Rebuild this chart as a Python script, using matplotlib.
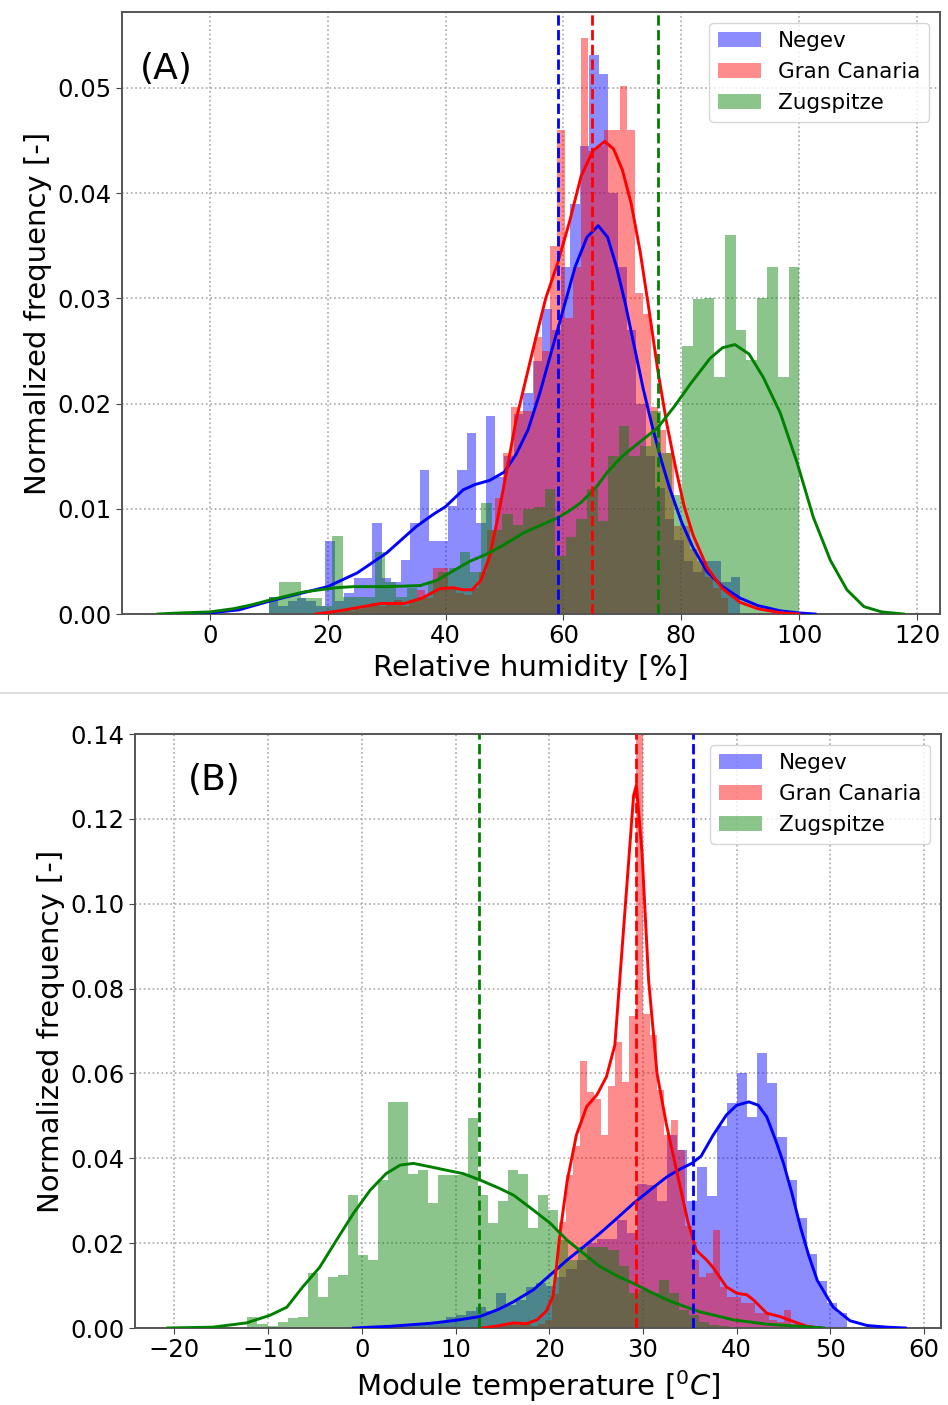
import numpy as np
import matplotlib.pyplot as plt
from matplotlib.lines import Line2D

# ---------- (A) relative humidity ----------
# histogram bins: (first edge, bin width), 50 bins each, heights = normalized frequency
rh_bins = {"Negev": (10.0, 1.6), "Gran Canaria": (22.0, 1.32), "Zugspitze": (10.0, 1.8)}

rh_negev = [0.0016, 0.0008, 0.0012, 0.0015, 0.0012, 0.0008, 0.0069, 0.0012, 0.0020, 0.0034,
            0.0034, 0.0086, 0.0034, 0.0030, 0.0051, 0.0086, 0.0137, 0.0069, 0.0069, 0.0103,
            0.0137, 0.0172, 0.0086, 0.0188, 0.0130, 0.0150, 0.0190, 0.0210, 0.0240, 0.0290,
            0.0270, 0.0330, 0.0390, 0.0445, 0.0531, 0.0513, 0.0400, 0.0330, 0.0270, 0.0200,
            0.0150, 0.0120, 0.0090, 0.0070, 0.0050, 0.0040, 0.0050, 0.0050, 0.0030, 0.0035]
rh_canaria = [0.0005, 0.0003, 0.0005, 0.0008, 0.0010, 0.0008, 0.0010, 0.0013, 0.0008, 0.0012,
              0.0023, 0.0015, 0.0044, 0.0044, 0.0025, 0.0020, 0.0018, 0.0025, 0.0040, 0.0080,
              0.0110, 0.0153, 0.0197, 0.0193, 0.0193, 0.0263, 0.0250, 0.0350, 0.0460, 0.0281,
              0.0330, 0.0547, 0.0440, 0.0445, 0.0460, 0.0460, 0.0502, 0.0460, 0.0305, 0.0285,
              0.0197, 0.0175, 0.0153, 0.0084, 0.0084, 0.0062, 0.0050, 0.0035, 0.0025, 0.0015]
rh_zugspitze = [0.0016, 0.0030, 0.0030, 0.0015, 0.0015, 0.0008, 0.0074, 0.0016, 0.0016, 0.0016,
                0.0059, 0.0030, 0.0016, 0.0025, 0.0016, 0.0030, 0.0040, 0.0044, 0.0059, 0.0040,
                0.0105, 0.0080, 0.0095, 0.0085, 0.0100, 0.0102, 0.0119, 0.0055, 0.0073, 0.0090,
                0.0119, 0.0088, 0.0150, 0.0179, 0.0150, 0.0160, 0.0193, 0.0153, 0.0113, 0.0255,
                0.0299, 0.0300, 0.0225, 0.0360, 0.0270, 0.0241, 0.0300, 0.0330, 0.0225, 0.0330]

# kde curves
rh_kde_negev_x = [-5, 0, 5, 10, 15, 20, 25, 30, 35, 38, 40, 43, 45, 47.5, 50, 52, 54, 56, 58, 60,
                  62, 64, 65.9, 67.5, 69, 70.5, 72, 73.5, 75, 76.5, 78, 80, 82, 84.4, 87, 90, 93,
                  96.8, 100, 102.7]
rh_kde_negev_y = [0, 0.0001, 0.0004, 0.0012, 0.0019, 0.0026, 0.0039, 0.0058, 0.0083, 0.0095,
                  0.0102, 0.0118, 0.0123, 0.0127, 0.0135, 0.0152, 0.0175, 0.0210, 0.0250, 0.0290,
                  0.0330, 0.0358, 0.0369, 0.0358, 0.0330, 0.0295, 0.0255, 0.0215, 0.0180, 0.0148,
                  0.0120, 0.0088, 0.0063, 0.0040, 0.0026, 0.0015, 0.0008, 0.0003, 0.0001, 0]
rh_kde_canaria_x = [18, 22, 25, 29, 33, 36, 39, 41.3, 43, 44.5, 46, 47.5, 49, 50.5, 52, 53.5, 55,
                    57, 59, 61, 63, 65, 67, 68.5, 70, 71.5, 73, 74.5, 76, 77.5, 79, 80.5, 82, 84.4,
                    87, 90, 93, 97, 100]
rh_kde_canaria_y = [0, 0.0003, 0.0006, 0.0010, 0.0010, 0.0015, 0.0024, 0.0025, 0.0023, 0.0023,
                    0.0032, 0.0055, 0.0095, 0.0140, 0.0185, 0.0220, 0.0255, 0.0300, 0.0333, 0.0372,
                    0.0416, 0.0440, 0.0449, 0.0442, 0.0422, 0.0390, 0.0345, 0.0290, 0.0232, 0.0182,
                    0.0140, 0.0102, 0.0075, 0.0044, 0.0024, 0.0011, 0.0005, 0.0001, 0]
rh_kde_zug_x = [-8.8, -5, 0, 4, 7.3, 10, 13, 16, 18.7, 21.5, 24.3, 30, 35.7, 38.5, 41.3, 44.1, 47,
                50, 53.2, 56, 58.9, 61, 63, 65.5, 67.5, 70, 73.1, 76, 78.8, 81.6, 84.9, 87, 89.1,
                91.5, 93.9, 96.8, 99.7, 102.4, 105.3, 108.1, 111, 114, 117.7]
rh_kde_zug_y = [0, 0.0001, 0.0002, 0.0005, 0.0009, 0.0013, 0.0017, 0.0021, 0.0023, 0.0025, 0.0026,
                0.0026, 0.0027, 0.0032, 0.0041, 0.0050, 0.0057, 0.0066, 0.0077, 0.0084, 0.0091,
                0.0098, 0.0106, 0.0120, 0.0135, 0.0150, 0.0164, 0.0177, 0.0197, 0.0219, 0.0243,
                0.0253, 0.0256, 0.0247, 0.0225, 0.0191, 0.0143, 0.0092, 0.0051, 0.0023, 0.0007,
                0.0002, 0]
rh_means = {"Negev": 59.1, "Gran Canaria": 64.9, "Zugspitze": 76.1}

# ---------- (B) module temperature ----------
mt_bins = {"Negev": (-1.7, 1.07), "Gran Canaria": (9.0, 0.75), "Zugspitze": (-12.2, 1.07)}

mt_negev = [0.0003, 0.0000, 0.0003, 0.0005, 0.0003, 0.0008, 0.0010, 0.0008, 0.0015, 0.0015,
            0.0025, 0.0030, 0.0040, 0.0050, 0.0040, 0.0082, 0.0055, 0.0066, 0.0097, 0.0105,
            0.0100, 0.0120, 0.0140, 0.0160, 0.0200, 0.0210, 0.0210, 0.0255, 0.0223, 0.0340,
            0.0336, 0.0300, 0.0455, 0.0420, 0.0300, 0.0380, 0.0310, 0.0475, 0.0530, 0.0600,
            0.0498, 0.0647, 0.0577, 0.0450, 0.0350, 0.0260, 0.0175, 0.0110, 0.0060, 0.0035]
mt_canaria = [0.0003, 0.0000, 0.0003, 0.0000, 0.0003, 0.0005, 0.0003, 0.0008, 0.0005, 0.0010,
              0.0008, 0.0010, 0.0005, 0.0010, 0.0020, 0.0080, 0.0250, 0.0360, 0.0430, 0.0630,
              0.0557, 0.0540, 0.0455, 0.0570, 0.0675, 0.0580, 0.0736, 0.1450, 0.0740, 0.0690,
              0.0560, 0.0455, 0.0490, 0.0420, 0.0240, 0.0160, 0.0121, 0.0129, 0.0230, 0.0097,
              0.0073, 0.0073, 0.0058, 0.0058, 0.0035, 0.0035, 0.0020, 0.0015, 0.0042, 0.0010]
mt_zugspitze = [0.0027, 0.0010, 0.0005, 0.0015, 0.0023, 0.0027, 0.0130, 0.0074, 0.0120, 0.0125,
                0.0313, 0.0172, 0.0160, 0.0349, 0.0533, 0.0533, 0.0364, 0.0372, 0.0294, 0.0360,
                0.0360, 0.0360, 0.0494, 0.0313, 0.0247, 0.0300, 0.0372, 0.0364, 0.0235, 0.0313,
                0.0278, 0.0207, 0.0160, 0.0192, 0.0192, 0.0192, 0.0185, 0.0145, 0.0082, 0.0090,
                0.0082, 0.0113, 0.0082, 0.0042, 0.0030, 0.0015, 0.0008, 0.0005, 0.0003, 0.0003]

mt_kde_negev_x = [-0.9, 3, 7.3, 10, 12.6, 14.7, 16.2, 18.3, 20.1, 21.9, 23.7, 25.4, 27.2, 29, 30.8,
                  32.6, 34, 35.2, 36.2, 37.5, 38.9, 40, 41.3, 42.3, 43.2, 44.2, 45.0, 45.9, 46.8,
                  47.7, 48.6, 50.3, 52.1, 53.9, 56, 58]
mt_kde_negev_y = [0, 0.0004, 0.0011, 0.0018, 0.0027, 0.0045, 0.0062, 0.0090, 0.0125, 0.0160,
                  0.0192, 0.0223, 0.0258, 0.0294, 0.0326, 0.0357, 0.0375, 0.0388, 0.0405, 0.0455,
                  0.0502, 0.0525, 0.0533, 0.0525, 0.0498, 0.0440, 0.0388, 0.0317, 0.0238, 0.0170,
                  0.0112, 0.0049, 0.0017, 0.0006, 0.0002, 0]
mt_kde_canaria_x = [12.9, 14.5, 16.2, 17.5, 18.7, 19.7, 20.4, 20.8, 21.1, 21.9, 22.9, 24.0, 25.1,
                    26.1, 27.0, 28.1, 29.0, 29.3, 29.9, 30.6, 31.5, 32.5, 33.6, 34.8, 35.7, 36.8,
                    37.5, 38.9, 40, 41.1, 41.8, 43.2, 44.6, 46.1, 47.5, 49]
mt_kde_canaria_y = [0, 0.0005, 0.0012, 0.0010, 0.0019, 0.0040, 0.0075, 0.0150, 0.0215, 0.0345,
                    0.0455, 0.0522, 0.0550, 0.0592, 0.0667, 0.0990, 0.1255, 0.1280, 0.1120, 0.0820,
                    0.0600, 0.0480, 0.0370, 0.0250, 0.0183, 0.0160, 0.0142, 0.0097, 0.0082, 0.0078,
                    0.0066, 0.0035, 0.0027, 0.0015, 0.0004, 0]
mt_kde_zug_x = [-20.7, -15.9, -12.3, -9.8, -8, -6.3, -4.5, -2.7, -0.9, 0.9, 2.6, 4.1, 5.5, 7.3, 9,
                10.8, 12.6, 14.7, 16.2, 18.3, 20.1, 21.9, 23.7, 25.4, 27.2, 29.0, 30.8, 32.6, 34.4,
                36.1, 39.7, 43.2, 46.8, 49.3]
mt_kde_zug_y = [0, 0.0002, 0.0012, 0.0030, 0.0049, 0.0097, 0.0143, 0.0207, 0.0270, 0.0325, 0.0364,
                0.0384, 0.0388, 0.0380, 0.0372, 0.0364, 0.0349, 0.0329, 0.0313, 0.0278, 0.0247,
                0.0207, 0.0175, 0.0145, 0.0123, 0.0105, 0.0085, 0.0066, 0.0051, 0.0038, 0.0019,
                0.0009, 0.0004, 0]
mt_means = {"Negev": 35.3, "Gran Canaria": 29.3, "Zugspitze": 12.5}

colors = {"Negev": "blue", "Gran Canaria": "red", "Zugspitze": "green"}
sites = ["Negev", "Gran Canaria", "Zugspitze"]


def draw_panel(ax, bins, heights, kdes, means):
    for site in sites:
        start, width = bins[site]
        edges = start + width * np.arange(len(heights[site]) + 1)
        # filled step outline = histogram bars without seams between bins
        ax.stairs(heights[site], edges, fill=True, color=colors[site], alpha=0.45,
                  lw=0, label=site, zorder=2)
    for site in sites:
        kx, ky = kdes[site]
        ax.plot(kx, ky, color=colors[site], lw=2.1, zorder=3)
    for site in sites:
        ax.axvline(means[site], color=colors[site], ls="--", lw=2, zorder=4)
    ax.grid(True, ls=":", lw=1.2, color="#a8a8a8", zorder=0)
    ax.set_axisbelow(True)
    ax.tick_params(labelsize=17.5, length=4, color="#444444")
    for sp in ax.spines.values():
        sp.set_color("#555555")
        sp.set_linewidth(1.4)
    ax.legend(loc="upper right", fontsize=15.5)
    ax.yaxis.set_major_formatter(plt.FormatStrFormatter("%.2f"))


fig = plt.figure(figsize=(9.48, 14.05), dpi=100)
axA = fig.add_axes([122 / 948, 1 - 614 / 1405, 818 / 948, 602 / 1405])
axB = fig.add_axes([135 / 948, 1 - 1328 / 1405, 806 / 948, 594 / 1405])

draw_panel(axA, rh_bins,
           {"Negev": rh_negev, "Gran Canaria": rh_canaria, "Zugspitze": rh_zugspitze},
           {"Negev": (rh_kde_negev_x, rh_kde_negev_y),
            "Gran Canaria": (rh_kde_canaria_x, rh_kde_canaria_y),
            "Zugspitze": (rh_kde_zug_x, rh_kde_zug_y)},
           rh_means)
axA.set_xlim(-14.9, 123.9)
axA.set_ylim(0, 0.0572)
axA.set_xticks(np.arange(0, 121, 20))
axA.set_yticks(np.arange(0, 0.051, 0.01))
axA.set_xlabel("Relative humidity [%]", fontsize=21)
axA.set_ylabel("Normalized frequency [-]", fontsize=21)
axA.text(0.022, 0.905, "(A)", transform=axA.transAxes, fontsize=26, va="center")

draw_panel(axB, mt_bins,
           {"Negev": mt_negev, "Gran Canaria": mt_canaria, "Zugspitze": mt_zugspitze},
           {"Negev": (mt_kde_negev_x, mt_kde_negev_y),
            "Gran Canaria": (mt_kde_canaria_x, mt_kde_canaria_y),
            "Zugspitze": (mt_kde_zug_x, mt_kde_zug_y)},
           mt_means)
axB.set_xlim(-24.2, 61.8)
axB.set_ylim(0, 0.14)
axB.set_xticks(np.arange(-20, 61, 10))
axB.set_yticks(np.arange(0, 0.141, 0.02))
axB.set_xlabel(r"Module temperature [$^0C$]", fontsize=21)
axB.set_ylabel("Normalized frequency [-]", fontsize=21)
axB.text(0.066, 0.922, "(B)", transform=axB.transAxes, fontsize=26, va="center")

# thin separator between the two panels
fig.add_artist(Line2D([0, 1], [1 - 693 / 1405] * 2, transform=fig.transFigure,
                      color="#d8d8d8", lw=1.2))

fig.savefig("out.png", dpi=100)
